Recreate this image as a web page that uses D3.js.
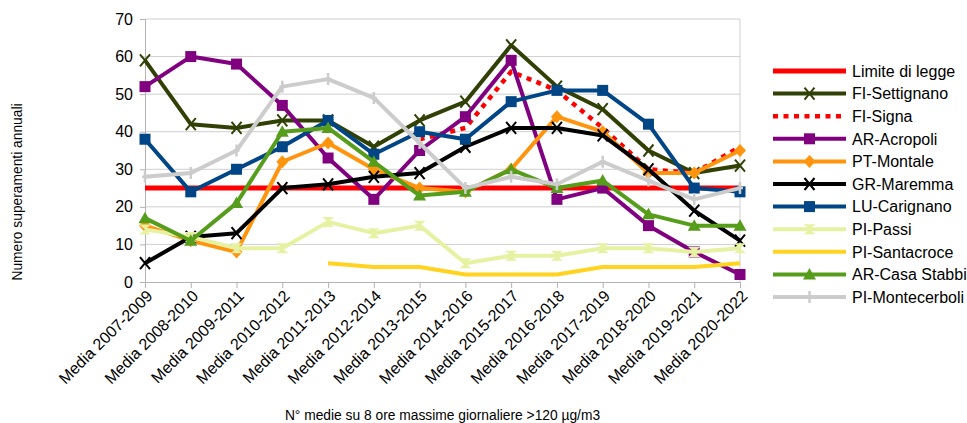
<!DOCTYPE html>
<html>
<head>
<meta charset="utf-8">
<script src="https://cdn.jsdelivr.net/npm/d3@7"></script>
<style>
  html, body { margin: 0; padding: 0; background: #fff; }
  svg { display: block; font-family: "Liberation Sans", Arial, sans-serif; }
</style>
</head>
<body>
<svg id="chart" width="967" height="423"></svg>
<script>
// Periodi triennali (etichette asse X)
const categories = [
  "Media 2007-2009", "Media 2008-2010", "Media 2009-2011", "Media 2010-2012",
  "Media 2011-2013", "Media 2012-2014", "Media 2013-2015", "Media 2014-2016",
  "Media 2015-2017", "Media 2016-2018", "Media 2017-2019", "Media 2018-2020",
  "Media 2019-2021", "Media 2020-2022"
];
const yTicks = [0, 10, 20, 30, 40, 50, 60, 70];

// Numero di superamenti per stazione (null = dato non disponibile)
const limite       = [25, 25, 25, 25, 25, 25, 25, 25, 25, 25, 25, 25, 25, 25];
const settignano   = [59, 42, 41, 43, 43, 36, 43, 48, 63, 52, 46, 35, 29, 31];
const signa        = [null, null, null, null, null, null, 38, 41, 56, 51, 41, 30, 29, 36];
const acropoli     = [52, 60, 58, 47, 33, 22, 35, 44, 59, 22, 25, 15, 8, 2];
const montale      = [15, 11, 8, 32, 37, 30, 25, 24, 30, 44, 40, 29, 29, 35];
const maremma      = [5, 12, 13, 25, 26, 28, 29, 36, 41, 41, 39, 30, 19, 11];
const carignano    = [38, 24, 30, 36, 43, 34, 40, 38, 48, 51, 51, 42, 25, 24];
const passi        = [14, 12, 9, 9, 16, 13, 15, 5, 7, 7, 9, 9, 8, 9];
const santacroce   = [null, null, null, null, 5, 4, 4, 2, 2, 2, 4, 4, 4, 5];
const casaStabbi   = [17, 11, 21, 40, 41, 32, 23, 24, 30, 25, 27, 18, 15, 15];
const montecerboli = [28, 29, 35, 52, 54, 49, 37, 25, 28, 26, 32, 27, 22, 25];

const series = [
  { name: "Limite di legge", values: limite,       color: "#ff0000", width: 5, marker: null },
  { name: "FI-Settignano",   values: settignano,   color: "#314004", width: 4, marker: "x" },
  { name: "FI-Signa",        values: signa,        color: "#ff0000", width: 4.5, marker: null, dash: "5,5.5" },
  { name: "AR-Acropoli",     values: acropoli,     color: "#800080", width: 4, marker: "square" },
  { name: "PT-Montale",      values: montale,      color: "#ff950e", width: 4, marker: "diamond" },
  { name: "GR-Maremma",      values: maremma,      color: "#000000", width: 4, marker: "x" },
  { name: "LU-Carignano",    values: carignano,    color: "#004586", width: 4, marker: "square" },
  { name: "PI-Passi",        values: passi,        color: "#e6f2a2", width: 4, marker: "hourglass" },
  { name: "PI-Santacroce",   values: santacroce,   color: "#ffd320", width: 4, marker: null },
  { name: "AR-Casa Stabbi",  values: casaStabbi,   color: "#579d1c", width: 4, marker: "triangle" },
  { name: "PI-Montecerboli", values: montecerboli, color: "#cccccc", width: 4, marker: "plus" }
];

const svg = d3.select("#chart");
const plot = { left: 145, right: 740, top: 19, bottom: 282 };

const x = d3.scalePoint().domain(categories).range([plot.left, plot.right]);
const y = d3.scaleLinear().domain([0, 70]).range([plot.bottom, plot.top]);

// Griglia orizzontale
svg.append("g")
  .selectAll("line")
  .data(yTicks.filter(d => d > 0))
  .join("line")
  .attr("x1", plot.left).attr("x2", plot.right)
  .attr("y1", d => y(d)).attr("y2", d => y(d))
  .attr("stroke", "#cfcfcf").attr("stroke-width", 1);

// Bordo destro dell'area del grafico
svg.append("line")
  .attr("x1", plot.right).attr("x2", plot.right)
  .attr("y1", plot.top).attr("y2", plot.bottom)
  .attr("stroke", "#cfcfcf").attr("stroke-width", 1);

// Asse Y
const yAxis = svg.append("g")
  .attr("transform", `translate(${plot.left},0)`)
  .call(d3.axisLeft(y).tickValues(yTicks).tickSize(5).tickPadding(7));
yAxis.select(".domain").attr("stroke", "#b3b3b3");
yAxis.selectAll(".tick line").attr("stroke", "#b3b3b3");
yAxis.selectAll(".tick text")
  .attr("font-size", 16).attr("fill", "#000")
  .attr("font-family", "Liberation Sans, Arial, sans-serif");

// Asse X
const xAxis = svg.append("g")
  .attr("transform", `translate(0,${plot.bottom})`)
  .call(d3.axisBottom(x).tickSize(6).tickPadding(4));
xAxis.select(".domain").attr("stroke", "#b3b3b3");
xAxis.selectAll(".tick line").attr("stroke", "#b3b3b3");
xAxis.selectAll(".tick text")
  .attr("font-size", 16).attr("fill", "#000")
  .attr("font-family", "Liberation Sans, Arial, sans-serif")
  .attr("text-anchor", "end")
  .attr("transform", "translate(4,11) rotate(-45)")
  .attr("dy", "0.35em")
  .attr("y", 0).attr("x", 0);

// Titoli degli assi
svg.append("text")
  .attr("x", (plot.left + plot.right) / 2)
  .attr("y", 420)
  .attr("text-anchor", "middle")
  .attr("font-size", 13.8)
  .text("N° medie su 8 ore massime giornaliere >120 µg/m3");

svg.append("text")
  .attr("transform", "translate(22,192) rotate(-90)")
  .attr("text-anchor", "middle")
  .attr("font-size", 13.8)
  .text("Numero superamenti annuali");

// Simboli dei marcatori
function markerPath(type) {
  switch (type) {
    case "square": return "M-5.5,-5.5H5.5V5.5H-5.5Z";
    case "diamond": return "M0,-6.5L6,0L0,6.5L-6,0Z";
    case "triangle": return "M0,-6.5L6.5,5L-6.5,5Z";
    case "hourglass": return "M-6,-5L6,-5L0,0L6,5L-6,5L0,0Z";
    default: return null;
  }
}

function drawMarker(g, type, color, cx, cy) {
  if (!type) return;
  if (type === "x") {
    g.append("path")
      .attr("d", `M${cx - 5},${cy - 6}L${cx + 5},${cy + 6}M${cx + 5},${cy - 6}L${cx - 5},${cy + 6}`)
      .attr("stroke", color).attr("stroke-width", 2).attr("fill", "none");
  } else if (type === "plus") {
    g.append("path")
      .attr("d", `M${cx},${cy - 6}V${cy + 6}M${cx - 3},${cy}H${cx + 3}`)
      .attr("stroke", color).attr("stroke-width", 2.5).attr("fill", "none");
  } else {
    g.append("path")
      .attr("d", markerPath(type))
      .attr("transform", `translate(${cx},${cy})`)
      .attr("fill", color);
  }
}

const line = d3.line()
  .defined(d => d.v != null)
  .x(d => x(d.c))
  .y(d => y(d.v));

// Linee e marcatori delle serie
series.forEach(s => {
  const pts = s.values.map((v, i) => ({ c: categories[i], v }));
  const g = svg.append("g");
  g.append("path")
    .datum(pts)
    .attr("d", line)
    .attr("fill", "none")
    .attr("stroke", s.color)
    .attr("stroke-width", s.width)
    .attr("stroke-linejoin", "round")
    .attr("stroke-dasharray", s.dash || null);
  pts.filter(p => p.v != null).forEach(p => drawMarker(g, s.marker, s.color, x(p.c), y(p.v)));
});

// Legenda
const legend = svg.append("g");
series.forEach((s, i) => {
  const ly = 71 + i * 22.6;
  const g = legend.append("g");
  g.append("line")
    .attr("x1", 773).attr("x2", 846)
    .attr("y1", ly).attr("y2", ly)
    .attr("stroke", s.color)
    .attr("stroke-width", s.width)
    .attr("stroke-dasharray", s.dash || null);
  drawMarker(g, s.marker, s.color, 809.5, ly);
  g.append("text")
    .attr("x", 852).attr("y", ly)
    .attr("dy", "0.36em")
    .attr("font-size", 16)
    .text(s.name);
});
</script>
</body>
</html>
